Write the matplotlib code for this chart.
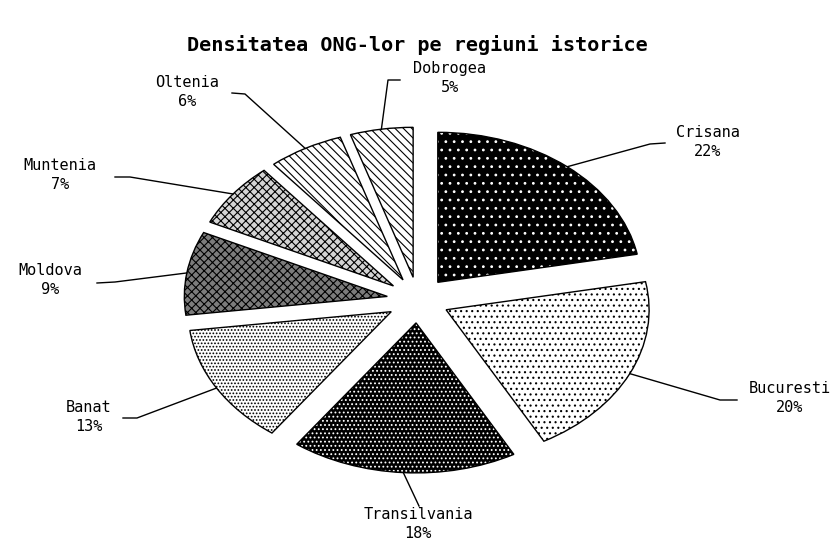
import numpy as np
import matplotlib.pyplot as plt

# data
regions = ['Crisana', 'Bucuresti', 'Transilvania', 'Banat',
           'Moldova', 'Muntenia', 'Oltenia', 'Dobrogea']
shares = [22, 20, 18, 13, 9, 7, 6, 5]
title = 'Densitatea ONG-lor pe regiuni istorice'

# black & white fill patterns (face, hatch, hatch colour)
fill_colors = ['black', 'white', 'black', 'white', '#7c7c7c', '#d4d4d4', 'white', 'white']
hatches = ['..', '...', '....', '.....', 'xxxx', 'xxxx', '\\\\\\\\', '\\\\\\\\']
hatch_colors = ['white', 'black', 'white', 'black', 'black', 'black', 'black', 'black']

# layout in pixels: pie centre and the two radii of the flattened pie
W, H = 835, 544
cx, cy, rx, ry = 418, 300, 203, 150
explode = [0.153] * len(shares)

# label block centres and leader line (elbow, end) in pixels
label_pos = [(708, 142), (790, 398), (418, 524), (89, 417),
             (50, 280), (60, 175), (187, 92), (450, 78)]
leader_pts = [[(650, 144), (665, 143)], [(720, 400), (737, 400)],
              [(419, 506)], [(137, 418), (123, 418)],
              [(115, 282), (97, 283)], [(130, 177), (115, 177)],
              [(245, 94), (232, 93)], [(388, 80), (400, 80)]]


def to_data(px, py):
    return (px - cx) / rx, (cy - py) / ry


plt.rcParams['hatch.linewidth'] = 0.8

fig = plt.figure(figsize=(W / 100, H / 100), dpi=100)
ax = fig.add_axes([0, 0, 1, 1])

pie_kw = dict(explode=explode, startangle=90, counterclock=False)

# base fill
ax.pie(shares, colors=fill_colors,
       wedgeprops=dict(edgecolor='none', linewidth=0), **pie_kw)
# hatch layer (hatch colour follows edge colour)
hatch_wedges, _ = ax.pie(shares, wedgeprops=dict(facecolor='none', linewidth=0), **pie_kw)
for w, h, c in zip(hatch_wedges, hatches, hatch_colors):
    w.set_hatch(h)
    w.set_edgecolor(c)
# outline
outline, _ = ax.pie(shares, wedgeprops=dict(facecolor='none', edgecolor='black',
                                            linewidth=1.0), **pie_kw)

ax.set_aspect('auto')
ax.set_xlim(-cx / rx, (W - cx) / rx)
ax.set_ylim(-(H - cy) / ry, cy / ry)
ax.axis('off')

for w, name, val, lp, pts in zip(outline, regions, shares, label_pos, leader_pts):
    mid = np.deg2rad((w.theta1 + w.theta2) / 2)
    x0 = w.center[0] + w.r * np.cos(mid)
    y0 = w.center[1] + w.r * np.sin(mid)
    xs = [x0] + [to_data(*p)[0] for p in pts]
    ys = [y0] + [to_data(*p)[1] for p in pts]
    ax.plot(xs, ys, color='black', linewidth=1.0)
    tx, ty = to_data(*lp)
    ax.text(tx, ty, f'{name}\n{val}%', ha='center', va='center',
            multialignment='center', linespacing=1.35,
            family='DejaVu Sans Mono', fontsize=11, color='black')

fig.text(0.5, 1 - 45 / H, title, ha='center', va='center',
         family='DejaVu Sans Mono', fontweight='bold', fontsize=14.5)

fig.savefig('out.png', dpi=100, facecolor='white')
